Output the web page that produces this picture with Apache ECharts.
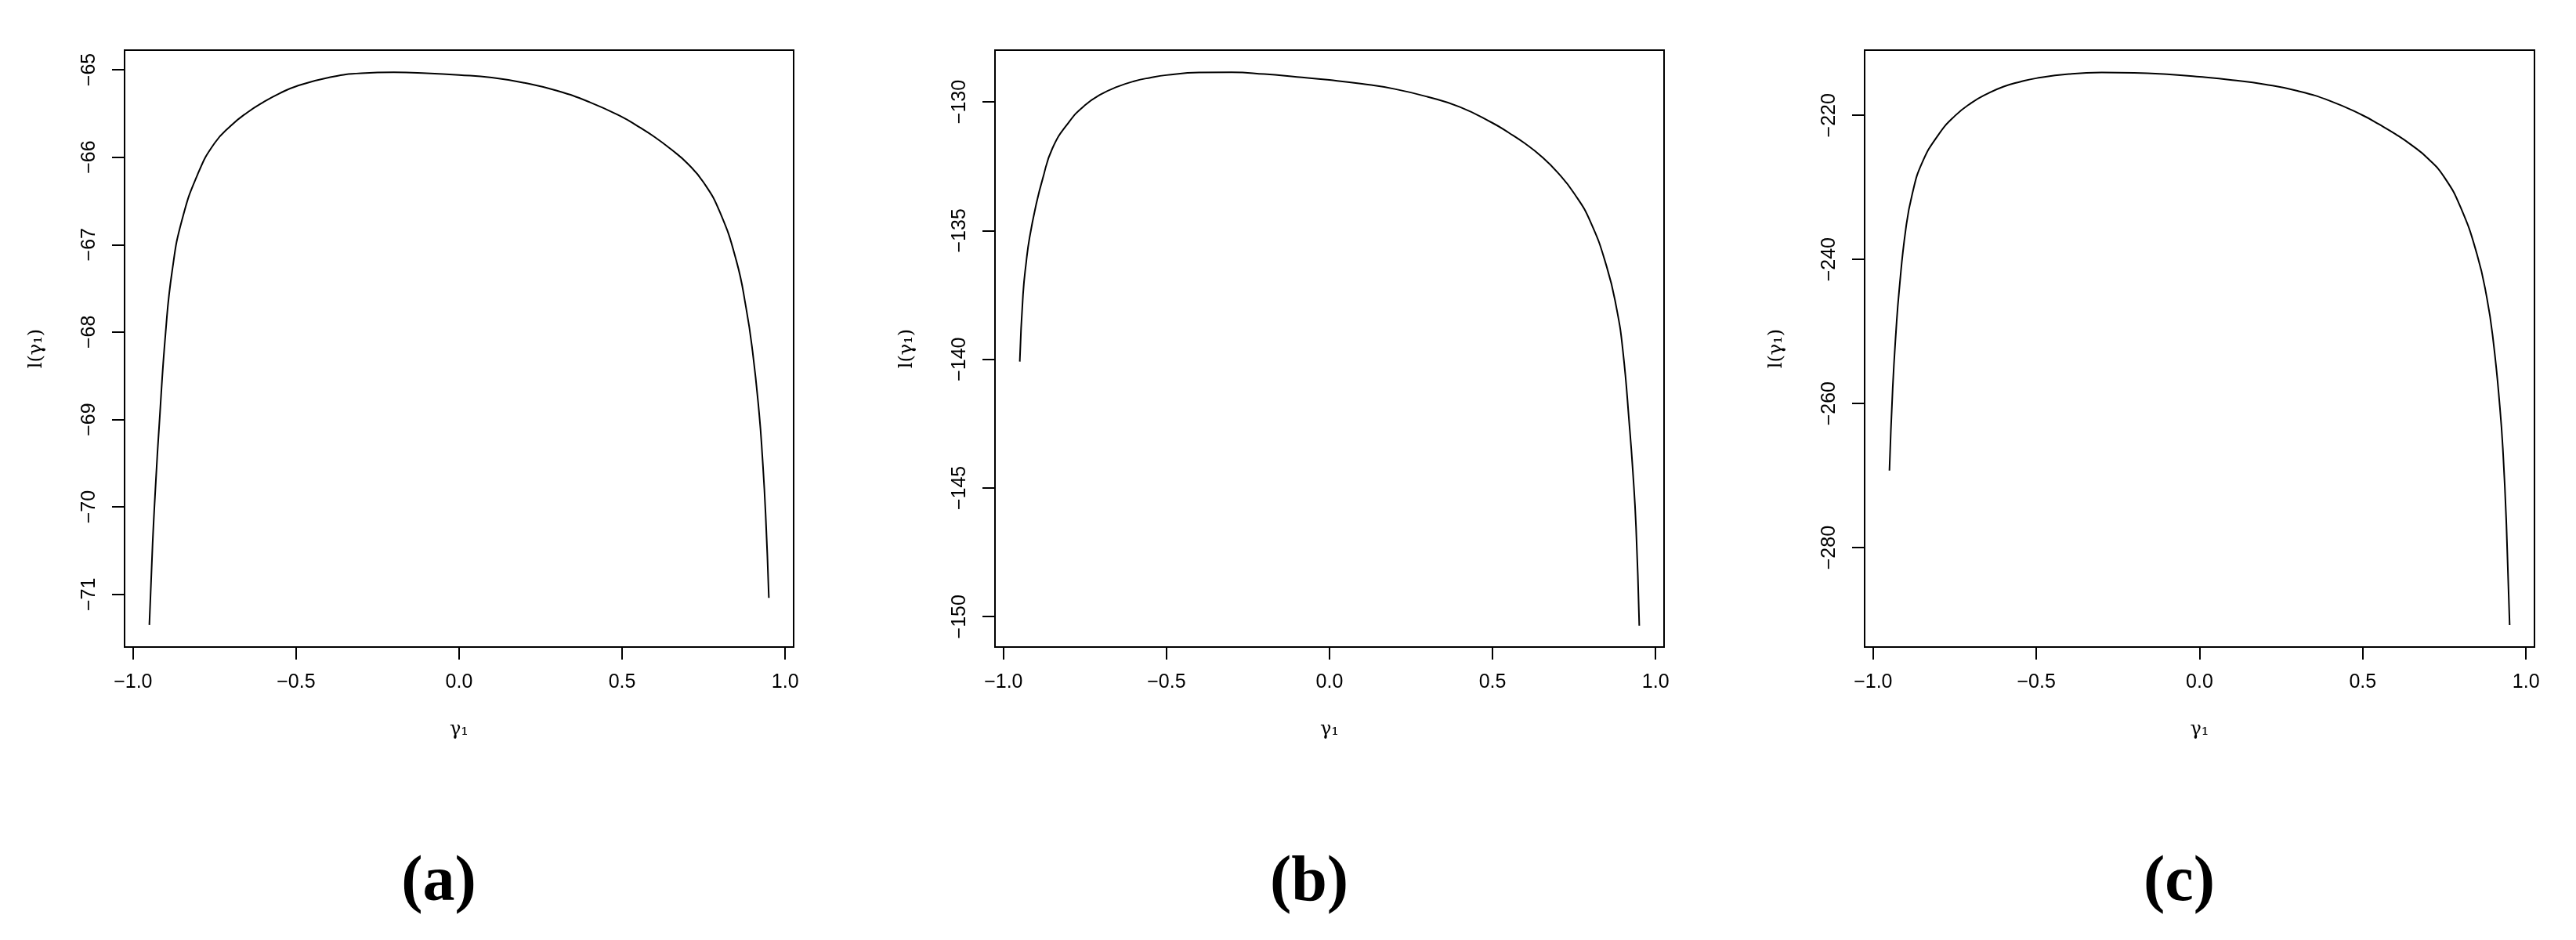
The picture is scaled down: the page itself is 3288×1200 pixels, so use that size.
<!DOCTYPE html>
<html>
<head>
<meta charset="utf-8">
<script src="https://cdn.jsdelivr.net/npm/echarts@6/dist/echarts.min.js"></script>
<style>
html,body{margin:0;padding:0;background:#fff;}
#chart{width:3288px;height:1200px;}
</style>
</head>
<body>
<div id="chart"></div>
<script>
// ---- data ----
const gamma = [-0.95, -0.94, -0.93, -0.92, -0.90, -0.88, -0.85, -0.80, -0.75, -0.70, -0.65, -0.60, -0.55, -0.50, -0.40, -0.30, -0.20, -0.10, 0.00, 0.10, 0.20, 0.30, 0.40, 0.50, 0.55, 0.60, 0.65, 0.70, 0.75, 0.80, 0.85, 0.88, 0.90, 0.92, 0.93, 0.94, 0.95];

const seriesA = [-71.35, -70.42, -69.70, -69.08, -68.00, -67.30, -66.72, -66.18, -65.84, -65.64, -65.49, -65.37, -65.27, -65.19, -65.09, -65.04, -65.03, -65.04, -65.06, -65.09, -65.15, -65.24, -65.37, -65.54, -65.65, -65.77, -65.91, -66.07, -66.29, -66.63, -67.18, -67.72, -68.22, -68.92, -69.42, -70.08, -71.04];

const seriesB = [-140.09, -137.48, -136.20, -135.28, -134.00, -133.00, -131.81, -130.80, -130.13, -129.70, -129.41, -129.20, -129.06, -128.96, -128.86, -128.85, -128.92, -129.03, -129.15, -129.30, -129.50, -129.80, -130.20, -130.82, -131.20, -131.62, -132.12, -132.75, -133.55, -134.65, -136.40, -138.00, -139.70, -142.60, -144.30, -146.50, -150.35];

const seriesC = [-269.3, -257.9, -250.1, -244.2, -235.8, -230.9, -226.6, -222.7, -220.1, -218.3, -217.0, -216.0, -215.35, -214.85, -214.27, -214.06, -214.10, -214.30, -214.65, -215.10, -215.70, -216.60, -218.00, -220.00, -221.25, -222.60, -224.15, -226.00, -228.60, -232.80, -239.30, -245.30, -251.40, -260.50, -267.00, -276.80, -290.75];

const xTicks = [-1.0, -0.5, 0.0, 0.5, 1.0];
const yTicksA = [-71, -70, -69, -68, -67, -66, -65];
const yTicksB = [-150, -145, -140, -135, -130];
const yTicksC = [-280, -260, -240, -220];

const captions = ['(a)', '(b)', '(c)'];
const xName = 'γ\u2081';
const yName = 'l(γ\u2081)';

// ---- layout / style ----
const FONT = '"Liberation Sans", Arial, Helvetica, sans-serif';
const NAMEFONT = '"DejaVu Serif", "Liberation Serif", serif';
const panels = [
  {left: 159, width: 854, yMin: -71.602, yMax: -64.776, ticks: yTicksA, data: seriesA},
  {left: 1270, width: 854, yMin: -151.18, yMax: -127.99, ticks: yTicksB, data: seriesB},
  {left: 2380, width: 855, yMin: -293.8, yMax: -210.95, ticks: yTicksC, data: seriesC}
];
const gridTop = 64, gridHeight = 762;
const xMin = -1.026, xMax = 1.026;

const minus = s => s.replace('-', '\u2212');

const grids = [], xAxes = [], yAxes = [], series = [], graphics = [];
panels.forEach((p, i) => {
  grids.push({
    left: p.left, top: gridTop, width: p.width, height: gridHeight,
    show: true, borderColor: '#000', borderWidth: 2, backgroundColor: 'transparent'
  });
  xAxes.push({
    type: 'value', gridIndex: i, min: xMin, max: xMax, position: 'bottom',
    axisLine: {show: false, onZero: false},
    splitLine: {show: false},
    axisTick: {show: true, inside: false, length: 16, customValues: xTicks, lineStyle: {color: '#000', width: 2}},
    axisLabel: {customValues: xTicks, margin: 33, fontSize: 25, color: '#000', fontFamily: FONT,
      formatter: v => minus(Number(v).toFixed(1))},
    name: xName, nameLocation: 'middle', nameGap: 94,
    nameTextStyle: {fontSize: 24, color: '#000', fontFamily: NAMEFONT}
  });
  yAxes.push({
    type: 'value', gridIndex: i, min: p.yMin, max: p.yMax, position: 'left',
    axisLine: {show: false, onZero: false},
    splitLine: {show: false},
    axisTick: {show: true, inside: false, length: 16, customValues: p.ticks, lineStyle: {color: '#000', width: 2}},
    axisLabel: {customValues: p.ticks, rotate: 90, margin: 32, fontSize: 25, color: '#000', fontFamily: FONT,
      formatter: v => minus(String(Math.round(v)))},
    name: yName, nameLocation: 'middle', nameGap: 100, nameRotate: 90,
    nameTextStyle: {fontSize: 24, color: '#000', fontFamily: NAMEFONT}
  });
  series.push({
    type: 'line', xAxisIndex: i, yAxisIndex: i,
    data: gamma.map((g, k) => [g, p.data[k]]),
    showSymbol: false, smooth: 0.5,
    lineStyle: {color: '#000', width: 2},
    silent: true, animation: false
  });
  graphics.push({
    type: 'text',
    x: p.left + p.width / 2 - 26, y: 1128,
    style: {text: captions[i], font: 'bold 82px "Liberation Serif", "Times New Roman", serif',
      fill: '#000', textAlign: 'center', textVerticalAlign: 'middle'}
  });
});

const chart = echarts.init(document.getElementById('chart'), null, {renderer: 'canvas'});
chart.setOption({
  backgroundColor: '#fff',
  animation: false,
  grid: grids,
  xAxis: xAxes,
  yAxis: yAxes,
  series: series,
  graphic: graphics
});
</script>
</body>
</html>
